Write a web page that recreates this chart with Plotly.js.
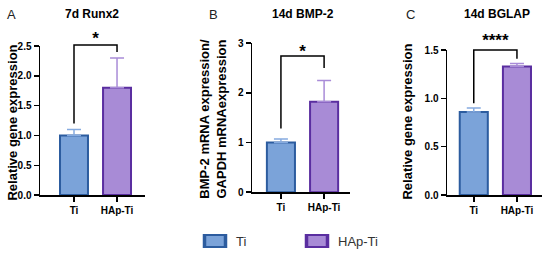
<!DOCTYPE html>
<html>
<head>
<meta charset="utf-8">
<script src="https://cdn.plot.ly/plotly-3.0.1.min.js"></script>
<style>
  html, body { margin: 0; padding: 0; background: #fff; }
  #chart { width: 550px; height: 256px; }
</style>
</head>
<body>
<div id="chart"></div>
<script>
// ==================================================
// Data
// ==================================================

const categories = ["Ti", "HAp-Ti"];

const runx2Mean = [1.0, 1.8];
const runx2Err = [0.1, 0.5];

const bmp2Mean = [1.0, 1.82];
const bmp2Err = [0.07, 0.43];

const bglapMean = [0.86, 1.33];
const bglapErr = [0.04, 0.03];

// significance brackets: [top, left leg end, right leg end, label height]
const runx2Bracket = [2.52, 1.2, 2.4, 2.47];
const bmp2Bracket = [2.74, 1.28, 2.5, 2.64];
const bglapBracket = [1.5, 0.95, 1.41, 1.5];
const sigLabels = ["*", "*", "****"];

const panelLetters = ["A", "B", "C"];
const panelTitles = ["7d Runx2", "14d BMP-2", "14d BGLAP"];
const yTitles = [
  "Relative gene expression",
  "BMP-2 mRNA expression/<br>GAPDH mRNAexpression",
  "Relative gene expression",
];
const yTickVals = [
  [0, 0.5, 1, 1.5, 2, 2.5],
  [0, 1, 2, 3],
  [0, 0.5, 1, 1.5],
];

// ==================================================
// Styles
// ==================================================

const W = 550, H = 256;
const FONT = "Liberation Sans, Arial, sans-serif";
const fillColors = ["#7ba3d9", "#a88bd6"];
const lineColors = ["#2c5c9f", "#5a2ea0"];
const errColors = ["#86abe0", "#a98cd8"];

// pixel boxes for each plot area (left, right, top, bottom) and y title spot
const boxes = [
  { l: 40, r: 145, t: 47, b: 199, xr: [-0.79, 1.65], tx: 13, ty: 125 },
  { l: 252, r: 350, t: 44, b: 196, xr: [-0.67, 1.6], tx: 213, ty: 121 },
  { l: 447, r: 542, t: 51, b: 199, xr: [-0.62, 1.58], tx: 408, ty: 124 },
];

const means = [runx2Mean, bmp2Mean, bglapMean];
const errs = [runx2Err, bmp2Err, bglapErr];
const brackets = [runx2Bracket, bmp2Bracket, bglapBracket];

const traces = [];
const layout = {
  width: W,
  height: H,
  margin: { l: 0, r: 0, t: 0, b: 0 },
  paper_bgcolor: "#fff",
  plot_bgcolor: "rgba(0,0,0,0)",
  font: { family: FONT, color: "#000" },
  barmode: "overlay",
  showlegend: true,
  legend: {
    orientation: "h",
    x: 196 / W,
    xanchor: "left",
    y: 1 - 246 / H,
    yanchor: "middle",
    font: { family: FONT, size: 13, color: "#333" },
    entrywidth: 57,
    entrywidthmode: "pixels",
    itemwidth: 30,
  },
  annotations: [],
};

boxes.forEach((b, i) => {
  const n = i + 1;
  const xName = n === 1 ? "x" : "x" + n;
  const yName = n === 1 ? "y" : "y" + n;
  const yOver = "y" + (n + 3);
  const xDom = [b.l / W, b.r / W];
  const yDom = [1 - b.b / H, 1 - b.t / H];
  const top = yTickVals[i][yTickVals[i].length - 1];

  layout["xaxis" + (n === 1 ? "" : n)] = {
    domain: xDom,
    anchor: yName,
    range: b.xr,
    tickvals: [0, 1],
    ticktext: categories,
    showline: true,
    linecolor: "#000",
    linewidth: 1.5,
    ticks: "outside",
    ticklen: 5,
    tickwidth: 1.5,
    tickcolor: "#000",
    showgrid: false,
    zeroline: false,
    tickfont: { family: FONT, size: 10, color: "#000", weight: "bold" },
    fixedrange: true,
  };

  layout["yaxis" + (n === 1 ? "" : n)] = {
    domain: yDom,
    anchor: xName,
    range: [0, top],
    tickvals: yTickVals[i],
    tickformat: i === 1 ? "d" : ".1f",
    showline: true,
    linecolor: "#000",
    linewidth: 1.5,
    ticks: "outside",
    ticklen: 5,
    tickwidth: 1.5,
    tickcolor: "#000",
    showgrid: false,
    zeroline: false,
    tickfont: { family: FONT, size: 10, color: "#000", weight: "bold" },
    fixedrange: true,
  };

  // y title, placed like the reference
  layout.annotations.push({
    text: "<b>" + yTitles[i] + "</b>",
    xref: "paper",
    yref: "paper",
    x: b.tx / W,
    y: 1 - b.ty / H,
    xanchor: "center",
    yanchor: "middle",
    textangle: -90,
    showarrow: false,
    font: { family: FONT, size: 13, color: "#000" },
  });

  // invisible taller axis for brackets, same scale as the bar axis
  const yDomOver = [yDom[0], 0.985];
  layout["yaxis" + (n + 3)] = {
    domain: yDomOver,
    anchor: xName,
    range: [0, top * (yDomOver[1] - yDomOver[0]) / (yDom[1] - yDom[0])],
    visible: false,
    fixedrange: true,
  };

  // bars
  categories.forEach((cat, k) => {
    traces.push({
      type: "bar",
      x: [k],
      y: [means[i][k]],
      xaxis: xName,
      yaxis: yName,
      width: 0.65,
      name: cat,
      legendgroup: cat,
      showlegend: i === 0,
      marker: {
        color: fillColors[k],
        line: { color: lineColors[k], width: 2 },
      },
      error_y: {
        type: "data",
        symmetric: false,
        array: [errs[i][k]],
        arrayminus: [0],
        color: errColors[k],
        thickness: 1.5,
        width: 7,
      },
      hoverinfo: "skip",
    });
  });

  // significance bracket
  const br = brackets[i];
  traces.push({
    type: "scatter",
    mode: "lines",
    x: [0, 0, 1, 1],
    y: [br[1], br[0], br[0], br[2]],
    xaxis: xName,
    yaxis: yOver,
    line: { color: "#000", width: 1.5 },
    showlegend: false,
    hoverinfo: "skip",
  });
  traces.push({
    type: "scatter",
    mode: "text",
    x: [0.5],
    y: [br[3]],
    text: [sigLabels[i]],
    textposition: "top center",
    textfont: { family: FONT, size: 17, color: "#000", weight: "bold" },
    xaxis: xName,
    yaxis: yOver,
    showlegend: false,
    hoverinfo: "skip",
  });
});

// panel letters and titles
const letterX = [11, 213, 410];
const titleX = [92, 303, 497];
panelLetters.forEach((t, i) => {
  layout.annotations.push({
    text: t,
    xref: "paper",
    yref: "paper",
    x: letterX[i] / W,
    y: 1 - 15 / H,
    xanchor: "center",
    yanchor: "middle",
    showarrow: false,
    font: { family: FONT, size: 13, color: "#222" },
  });
  layout.annotations.push({
    text: "<b>" + panelTitles[i] + "</b>",
    xref: "paper",
    yref: "paper",
    x: titleX[i] / W,
    y: 1 - 14 / H,
    xanchor: "center",
    yanchor: "middle",
    showarrow: false,
    font: { family: FONT, size: 12, color: "#000" },
  });
});

Plotly.newPlot("chart", traces, layout, { displayModeBar: false, staticPlot: true }).then(() => {
  // wider legend swatches sitting just left of their text, like the reference
  document.querySelectorAll(".legend .traces").forEach(item => {
    const path = item.querySelector(".legendpoints path");
    const text = item.querySelector("text.legendtext");
    if (!path || !text) return;
    path.setAttribute("transform", "scale(1.75,1)");
    const pr = path.getBoundingClientRect();
    const tr = text.getBoundingClientRect();
    const dx = (tr.left - 21) - (pr.left + pr.width / 2);
    path.setAttribute("transform", `translate(${dx},0) scale(1.75,1)`);
  });
});
</script>
</body>
</html>
